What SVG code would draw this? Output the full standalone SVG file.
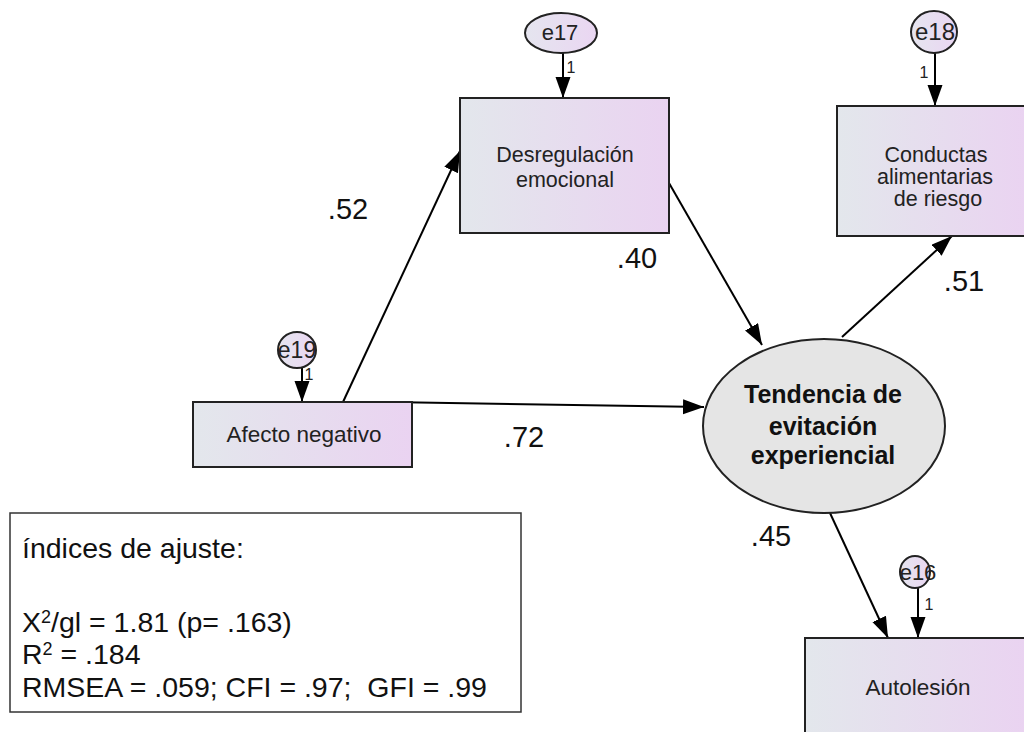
<svg xmlns="http://www.w3.org/2000/svg" width="1024" height="732" viewBox="0 0 1024 732">
<defs>
<linearGradient id="boxg" x1="0" y1="0" x2="1" y2="0">
<stop offset="0" stop-color="#e3e7ec"/>
<stop offset="1" stop-color="#ead3f1"/>
</linearGradient>
<linearGradient id="errg" x1="0" y1="0" x2="1" y2="0">
<stop offset="0" stop-color="#e5e5ef"/>
<stop offset="1" stop-color="#ead6f2"/>
</linearGradient>
<marker id="arr" markerUnits="userSpaceOnUse" markerWidth="24" markerHeight="16" refX="21" refY="7.5" orient="auto">
<path d="M0,0 L21,7.5 L0,15 Z" fill="#000"/>
</marker>
</defs>
<style>
.box{fill:url(#boxg);stroke:#222;stroke-width:2}
.err{fill:url(#errg);stroke:#222;stroke-width:2}
.t{font-family:"Liberation Sans",Arial,sans-serif;fill:#222;text-anchor:middle}
.nt{font-size:21.5px}
.one{font-size:16px}
.coef{font-family:"Liberation Sans",Arial,sans-serif;font-size:29px;fill:#111;text-anchor:middle}
.con{stroke:#000;stroke-width:2;fill:none;marker-end:url(#arr)}
.fit{font-family:"Liberation Sans",Arial,sans-serif;font-size:28.5px;fill:#111}
</style>
<rect width="1024" height="732" fill="#fff"/>

<g id="connectors">
<line class="con" x1="343" y1="402" x2="460" y2="151"/>
<line class="con" x1="388" y1="402" x2="704" y2="407"/>
<line class="con" x1="669" y1="183" x2="762" y2="345"/>
<line class="con" x1="842" y1="337" x2="952" y2="236"/>
<line class="con" x1="830" y1="513" x2="888" y2="638"/>
<line class="con" x1="563" y1="52" x2="563" y2="98"/>
<line class="con" x1="935" y1="53" x2="935" y2="106"/>
<line class="con" x1="302" y1="368" x2="302" y2="402"/>
<line class="con" x1="918" y1="588" x2="918" y2="638"/>
</g>

<g id="labels">
<text class="coef" x="348" y="219">.52</text>
<text class="coef" x="637" y="268">.40</text>
<text class="coef" x="964" y="291">.51</text>
<text class="coef" x="524" y="447">.72</text>
<text class="coef" x="771" y="546">.45</text>
</g>

<g id="e17">
<ellipse class="err" cx="561" cy="33" rx="36" ry="20"/>
<text class="t" x="560" y="40" style="font-size:22px">e17</text>
<text class="t one" x="571" y="73">1</text>
</g>
<g id="e18">
<ellipse class="err" cx="934" cy="32" rx="23" ry="21"/>
<text class="t" x="935" y="40" style="font-size:24px">e18</text>
<text class="t one" x="924" y="78">1</text>
</g>
<g id="e19">
<ellipse class="err" cx="297" cy="350" rx="19" ry="18"/>
<text class="t" x="297" y="358" style="font-size:23px">e19</text>
<text class="t one" x="309" y="380">1</text>
</g>
<g id="e16">
<ellipse class="err" cx="915" cy="572" rx="15" ry="16"/>
<text class="t" x="918" y="580" style="font-size:22px">e16</text>
<text class="t one" x="929" y="610">1</text>
</g>

<g id="desregulacion">
<rect class="box" x="460" y="98" width="209" height="135"/>
<text class="t nt" x="565" y="162">Desregulación</text>
<text class="t nt" x="565" y="187">emocional</text>
</g>
<g id="conductas">
<rect class="box" x="837" y="106" width="190" height="130"/>
<text class="t nt" x="936" y="162">Conductas</text>
<text class="t nt" x="935" y="184">alimentarias</text>
<text class="t nt" x="938" y="206">de riesgo</text>
</g>
<g id="afecto">
<rect class="box" x="193" y="402" width="219" height="65"/>
<text class="t" x="304" y="442" style="font-size:22.5px">Afecto negativo</text>
</g>
<g id="tendencia">
<ellipse cx="824" cy="426" rx="121" ry="87" fill="#e5e5e5" stroke="#222" stroke-width="2"/>
<text class="t" x="823" y="403" style="font-size:25px;font-weight:bold;fill:#111">Tendencia de</text>
<text class="t" x="823" y="435" style="font-size:25px;font-weight:bold;fill:#111">evitación</text>
<text class="t" x="823" y="464" style="font-size:25px;font-weight:bold;fill:#111">experiencial</text>
</g>
<g id="autolesion">
<rect class="box" x="805" y="638" width="222" height="100"/>
<text class="t" x="918" y="695" style="font-size:22.5px">Autolesión</text>
</g>

<g id="fit">
<rect x="10" y="513" width="511" height="199" fill="#fff" stroke="#333" stroke-width="1.5"/>
<text class="fit" x="22" y="558">índices de ajuste:</text>
<text class="fit" x="22" y="632">X<tspan style="font-size:18px" dy="-9">2</tspan><tspan dy="9">/gl = 1.81 (p= .163)</tspan></text>
<text class="fit" x="22" y="664">R<tspan style="font-size:18px" dy="-9">2</tspan><tspan dy="9" xml:space="preserve"> = .184</tspan></text>
<text class="fit" x="22" y="697" xml:space="preserve">RMSEA = .059; CFI = .97;  GFI = .99</text>
</g>
</svg>
